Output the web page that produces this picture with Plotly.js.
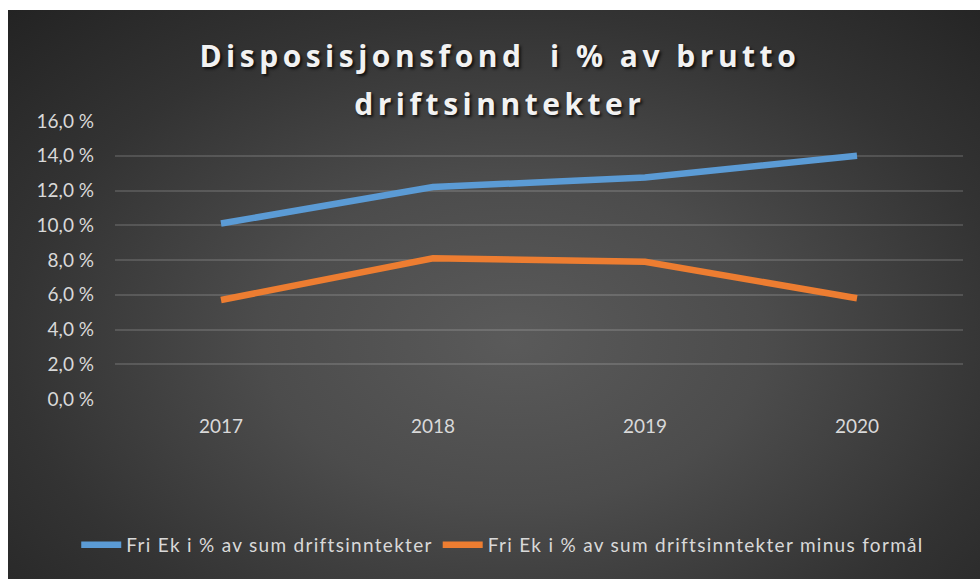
<!DOCTYPE html>
<html>
<head>
<meta charset="utf-8">
<script src="https://cdn.plot.ly/plotly-3.0.1.min.js"></script>
<style>
  html, body { margin: 0; padding: 0; background: #ffffff; }
  #wrap { position: relative; width: 980px; height: 579px; overflow: hidden; }
  #bg { position: absolute; left: 8px; top: 10px; width: 972px; height: 569px;
        background: radial-gradient(ellipse farthest-corner at 52% 58%, #5a5a5a 0%, #4c4c4c 35%, #333333 70%, #232323 100%); }
  #chart { position: absolute; left: 0; top: 0; width: 980px; height: 579px; }
  .gtitle { letter-spacing: 4.5px; }
  .legendtext { letter-spacing: 1.3px; }
</style>
</head>
<body>
<div id="wrap">
  <div id="bg"></div>
  <div id="chart"></div>
</div>
<script>
// ---- data ----
const years = ['2017', '2018', '2019', '2020'];
const seriesNames = ['Fri Ek i % av sum driftsinntekter', 'Fri Ek i % av sum driftsinntekter minus formål'];
const friEk = [10.1, 12.2, 12.75, 14.0];
const friEkMinusFormal = [5.7, 8.1, 7.9, 5.8];
const yTickVals = [0, 2, 4, 6, 8, 10, 12, 14, 16];
const yTickText = ['0,0 %', '2,0 %', '4,0 %', '6,0 %', '8,0 %', '10,0 %', '12,0 %', '14,0 %', '16,0 %'];
const titleText = 'Disposisjonsfond\u00a0 i % av brutto<br>driftsinntekter';

const colors = ['#5b9bd5', '#ed7d31'];
const labelColor = '#d9d9d9';

const traces = [
  { x: years, y: friEk, name: seriesNames[0], type: 'scatter', mode: 'lines',
    line: { color: colors[0], width: 6.5 }, hoverinfo: 'x+y' },
  { x: years, y: friEkMinusFormal, name: seriesNames[1], type: 'scatter', mode: 'lines',
    line: { color: colors[1], width: 6.5 }, hoverinfo: 'x+y' }
];

const layout = {
  width: 980, height: 579,
  paper_bgcolor: 'rgba(0,0,0,0)', plot_bgcolor: 'rgba(0,0,0,0)',
  margin: { l: 115, r: 17, t: 121, b: 180 },
  font: { family: 'Lato, "Open Sans", sans-serif', color: labelColor },
  title: {
    text: titleText,
    x: 0.51, xref: 'container', xanchor: 'center',
    y: 0.885, yref: 'container', yanchor: 'top',
    font: { family: '"Open Sans", Lato, sans-serif', size: 30, weight: 700, color: '#f2f2f2',
            shadow: '2px 2px 3px rgba(0,0,0,0.75)' }
  },
  xaxis: {
    type: 'category', categoryorder: 'array', categoryarray: years,
    range: [-0.5, 3.5], showgrid: false, zeroline: false, showline: false, ticks: '',
    tickfont: { size: 19, color: labelColor }, ticklabelstandoff: 14
  },
  yaxis: {
    range: [0, 16], tickmode: 'array', tickvals: yTickVals, ticktext: yTickText,
    showgrid: true, gridcolor: 'rgba(255,255,255,0.14)', gridwidth: 1.5,
    zeroline: false, showline: false, ticks: '',
    tickfont: { size: 19, color: labelColor }, ticklabelstandoff: 20
  },
  showlegend: true,
  legend: {
    orientation: 'h', xref: 'container', yref: 'container',
    x: 0.513, xanchor: 'center', y: 1 - 545 / 579, yanchor: 'middle',
    font: { size: 19, color: labelColor }, bgcolor: 'rgba(0,0,0,0)', itemwidth: 40
  }
};

const gd = document.getElementById('chart');
function fixTitle() {
  const lines = gd.querySelectorAll('.gtitle tspan.line');
  lines.forEach((t, i) => { if (i > 0) t.setAttribute('dy', '1.6em'); });
}
Plotly.newPlot(gd, traces, layout, { displayModeBar: false }).then(() => {
  fixTitle();
  gd.on('plotly_afterplot', fixTitle);
});
</script>
</body>
</html>
